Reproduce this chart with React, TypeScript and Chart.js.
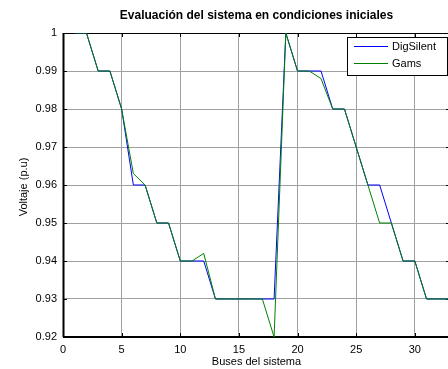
import React, { useEffect, useRef } from "react";
import { Chart, registerables } from "chart.js";

Chart.register(...registerables);

const buses = [1,2,3,4,5,6,7,8,9,10,11,12,13,14,15,16,17,18,19,20,21,22,23,24,25,26,27,28,29,30,31,32,33];
const digSilent = [1,1,0.99,0.99,0.98,0.96,0.96,0.95,0.95,0.94,0.94,0.94,0.93,0.93,0.93,0.93,0.93,0.93,1,0.99,0.99,0.99,0.98,0.98,0.97,0.96,0.96,0.95,0.94,0.94,0.93,0.93,0.93];
const gams = [1,1,0.99,0.99,0.98,0.963,0.96,0.95,0.95,0.94,0.94,0.942,0.93,0.93,0.93,0.93,0.93,0.92,1,0.99,0.99,0.988,0.98,0.98,0.97,0.96,0.95,0.95,0.94,0.94,0.93,0.93,0.93];
const xTicks = [0,5,10,15,20,25,30];
const yTicks = [0.92,0.93,0.94,0.95,0.96,0.97,0.98,0.99,1];
const seriesNames = ["DigSilent","Gams"];
const seriesColors = ["#0000ff","#008000"];
const titleText = "Evaluación del sistema en condiciones iniciales";
const xTitle = "Buses del sistema";
const yTitle = "Voltaje (p.u)";

const FONT = "'Liberation Sans', Arial, sans-serif";

export default function App() {
  const ref = useRef<HTMLCanvasElement | null>(null);
  useEffect(() => {
    if (!ref.current) return;
    const decor = {
      id: "decor",
      beforeDatasetsDraw(chart: any) {
        const ctx = chart.ctx;
        const a = chart.chartArea;
        ctx.save();
        ctx.strokeStyle = "#000";
        ctx.lineWidth = 1;
        ctx.strokeRect(a.left + 0.5, a.top + 0.5, a.right - a.left, a.bottom - a.top);
        ctx.lineWidth = 2;
        ctx.beginPath();
        ctx.moveTo(a.left, a.bottom);
        ctx.lineTo(a.right, a.bottom);
        ctx.moveTo(a.left + 0.5, a.top);
        ctx.lineTo(a.left + 0.5, a.bottom);
        ctx.stroke();
        ctx.lineWidth = 1;
        const xs = chart.scales.x, ys = chart.scales.y;
        ctx.beginPath();
        xTicks.forEach((t) => {
          const px = Math.round(xs.getPixelForValue(t)) + 0.5;
          ctx.moveTo(px, a.top); ctx.lineTo(px, a.top + 4);
          ctx.moveTo(px, a.bottom); ctx.lineTo(px, a.bottom - 4);
        });
        yTicks.forEach((t) => {
          const py = Math.round(ys.getPixelForValue(t)) + 0.5;
          ctx.moveTo(a.left, py); ctx.lineTo(a.left + 4, py);
          ctx.moveTo(a.right, py); ctx.lineTo(a.right - 4, py);
        });
        ctx.stroke();
        ctx.restore();
      },
      afterDraw(chart: any) {
        const ctx = chart.ctx;
        const a = chart.chartArea;
        ctx.save();
        ctx.fillStyle = "#000";
        ctx.font = "bold 12px " + FONT;
        ctx.textAlign = "center";
        ctx.textBaseline = "middle";
        ctx.fillText(titleText, (a.left + a.right) / 2, 16);
        ctx.font = "11px " + FONT;
        ctx.fillText(xTitle, (a.left + a.right) / 2, 362);
        ctx.save();
        ctx.translate(24, 187);
        ctx.rotate(-Math.PI / 2);
        ctx.fillText(yTitle, 0, 0);
        ctx.restore();
        // legend
        const lx = 347, ly = 37, lw = 100, lh = 38;
        ctx.fillStyle = "#fff";
        ctx.fillRect(lx, ly, lw, lh);
        ctx.strokeStyle = "#000";
        ctx.lineWidth = 1;
        ctx.strokeRect(lx + 0.5, ly + 0.5, lw, lh);
        const rows = [46.5, 63.5];
        ctx.textAlign = "left";
        ctx.font = "11px " + FONT;
        seriesNames.forEach((n, i) => {
          ctx.strokeStyle = seriesColors[i];
          ctx.lineWidth = 1;
          ctx.beginPath();
          ctx.moveTo(354, rows[i]);
          ctx.lineTo(388, rows[i]);
          ctx.stroke();
          ctx.fillStyle = "#000";
          ctx.fillText(n, 392, rows[i]);
        });
        ctx.restore();
      },
    };
    const chart = new Chart(ref.current, {
      type: "line",
      data: {
        datasets: [
          {
            label: seriesNames[0],
            data: buses.map((b, i) => ({ x: b, y: digSilent[i] })),
            borderColor: seriesColors[0],
            borderWidth: 1,
            pointRadius: 0,
            tension: 0,
            order: 1,
          },
          {
            label: seriesNames[1],
            data: buses.map((b, i) => ({ x: b, y: gams[i] })),
            borderColor: seriesColors[1],
            borderWidth: 1,
            pointRadius: 0,
            tension: 0,
            order: 0,
          },
        ],
      },
      options: {
        responsive: false,
        animation: false,
        events: [],
        layout: { padding: { left: 0, right: 10, top: 33, bottom: 0 } },
        plugins: { legend: { display: false }, title: { display: false }, tooltip: { enabled: false } },
        scales: {
          x: {
            type: "linear",
            min: 0,
            max: 33,
            afterBuildTicks: (s: any) => { s.ticks = xTicks.map((v) => ({ value: v })); },
            afterFit: (s: any) => { s.height = 32; },
            grid: { color: "#a0a0a0", drawTicks: false, lineWidth: 1 },
            border: { display: false },
            ticks: { color: "#000", font: { family: FONT, size: 11 }, padding: 6, maxRotation: 0, autoSkip: false },
          },
          y: {
            type: "linear",
            min: 0.92,
            max: 1,
            afterBuildTicks: (s: any) => { s.ticks = yTicks.map((v) => ({ value: v })); },
            afterFit: (s: any) => { s.width = 63; },
            grid: { color: "#a0a0a0", drawTicks: false, lineWidth: 1 },
            border: { display: false },
            ticks: { color: "#000", font: { family: FONT, size: 11 }, padding: 6, autoSkip: false, callback: (v: any) => String(v) },
          },
        },
      },
      plugins: [decor],
    });
    return () => chart.destroy();
  }, []);
  return (
    <div style={{ position: "fixed", left: 0, top: 0, width: 448, height: 369, overflow: "hidden", background: "#fff" }}>
      <canvas ref={ref} width={460} height={369} style={{ display: "block" }} />
    </div>
  );
}
